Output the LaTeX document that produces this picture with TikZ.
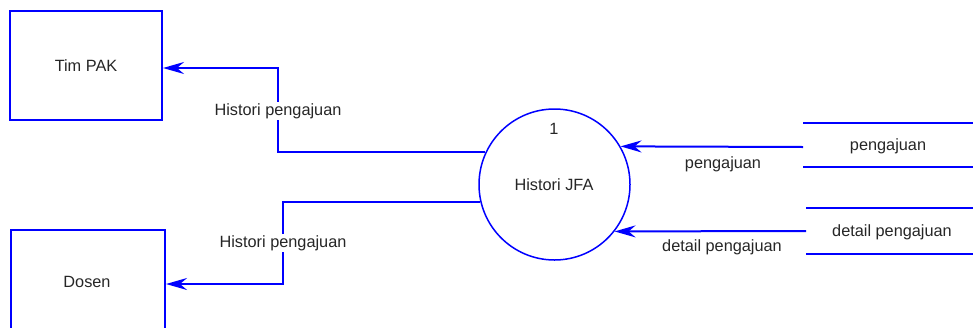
\documentclass[tikz,border=0pt]{standalone}
\usepackage{fontspec}
\setmainfont{Liberation Sans}
\usetikzlibrary{arrows.meta}
\definecolor{dfdblue}{RGB}{0,0,255}
\tikzset{
  entity/.style={draw=dfdblue, line width=2pt, rectangle, inner sep=0pt},
  proc/.style={draw=dfdblue, line width=1.5pt, circle, minimum size=151pt, inner sep=0pt},
  flow/.style={draw=dfdblue, line width=2pt, -{Stealth[length=21pt,width=12pt,inset=7pt]}},
  storeline/.style={draw=dfdblue, line width=2pt},
  lbl/.style={font=\fontsize{16.3pt}{18pt}\selectfont, text=black!85, inner sep=1pt},
  flbl/.style={lbl, fill=white}
}
\begin{document}
\begin{tikzpicture}[x=1pt,y=-1pt]
\useasboundingbox (0,0) rectangle (973,327);
% entities
\node[entity, minimum width=152pt, minimum height=109pt, lbl] (pak) at (86,65.5) {Tim PAK};
\node[entity, minimum width=154pt, minimum height=110pt, lbl] (dosen) at (88,285) {};
\node[lbl] (dosent) at (87,282) {Dosen};
% process
\node[proc] (c) at (554.5,184.5) {};
\node[lbl] (cnum) at (554,129) {1};
\node[lbl] (cname) at (554,185) {Histori JFA};
% data stores
\coordinate (s1a) at (803,123); \coordinate (s1b) at (973,123);
\coordinate (s1c) at (803,167); \coordinate (s1d) at (973,167);
\coordinate (s1e) at (803,147);
\draw[storeline] (s1a) -- (s1b);
\draw[storeline] (s1c) -- (s1d);
\node[lbl] (s1t) at (888,146) {pengajuan};
\coordinate (s2a) at (806,208); \coordinate (s2b) at (973,208);
\coordinate (s2c) at (806,254); \coordinate (s2d) at (973,254);
\coordinate (s2e) at (806,231);
\draw[storeline] (s2a) -- (s2b);
\draw[storeline] (s2c) -- (s2d);
\node[lbl] (s2t) at (892,232) {detail pengajuan};
% flows
\coordinate (j1) at (278,68);
\draw[flow] (c.155) -| (j1) -- (j1 -| pak.east);
\coordinate (j2) at (283,284);
\draw[flow] (c.193) -| (j2) -- (j2 -| dosen.east);
\node[flbl] (f1) at (278,111) {Histori pengajuan};
\node[flbl] (f2) at (283,243) {Histori pengajuan};
\draw[flow] (s1e) -- (c.30);
\draw[flow] (s2e) -- (c.-38);
\node[lbl] (f3) at (723,164) {pengajuan};
\node[lbl] (f4) at (722,247) {detail pengajuan};
\end{tikzpicture}
\end{document}
